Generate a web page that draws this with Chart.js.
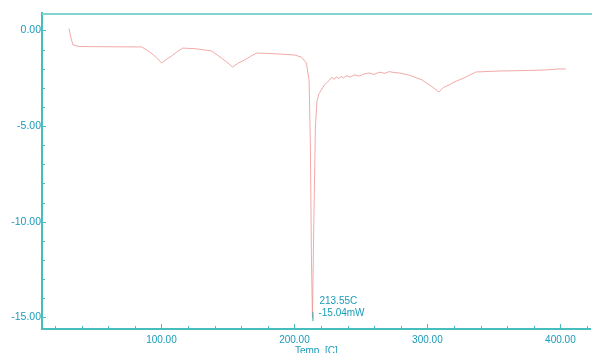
<!DOCTYPE html>
<html>
<head>
<meta charset="utf-8">
<script src="https://cdn.jsdelivr.net/npm/chart.js@4/dist/chart.umd.min.js"></script>
<style>
  html, body { margin: 0; padding: 0; background: #fff; }
  #wrap { width: 592px; height: 353px; position: relative; }
</style>
</head>
<body>
<div id="wrap"><canvas id="dsc"></canvas></div>
<script>
// DSC curve, temperature (C) vs heat flow (mW)
const temps = [
  30.5, 32, 33.5, 38.7, 60, 85.2, 91.2, 96, 100.2, 104, 107.7, 112, 116,
  125, 137.7, 145.2, 150, 153.5, 158, 162.5, 167, 171.5, 180, 188.7, 200,
  205.2, 209, 211, 212, 212.8, 213.55, 214.6, 215.8, 217, 218.5, 222.5,
  226.2, 228, 230, 231.5, 233.5, 235, 237, 239, 242, 245, 248.7, 252,
  256.2, 260, 263.7, 268, 271.2, 275, 278.7, 286.2, 296, 302.7, 308.7,
  312, 316.2, 320, 327.5, 336.5, 353.7, 376.2, 390, 398.7, 404
];
const heatFlow = [
  0.1, -0.4, -0.76, -0.84, -0.85, -0.86, -1.12, -1.4, -1.7, -1.5, -1.33, -1.1, -0.92,
  -0.95, -1.07, -1.44, -1.7, -1.91, -1.7, -1.54, -1.35, -1.18, -1.2, -1.23, -1.28,
  -1.39, -1.7, -2.6, -6.0, -12.0, -15.04, -10.0, -5.0, -3.7, -3.3, -2.85,
  -2.6, -2.45, -2.55, -2.42, -2.52, -2.4, -2.48, -2.36, -2.44, -2.32, -2.38, -2.28,
  -2.22, -2.3, -2.18, -2.24, -2.15, -2.2, -2.22, -2.33, -2.59, -2.9, -3.22,
  -2.98, -2.85, -2.7, -2.48, -2.17, -2.12, -2.09, -2.06, -2.01, -2.01
];
const xTickValues = [20, 40, 60, 80, 100, 120, 140, 160, 180, 200, 220, 240, 260, 280, 300, 320, 340, 360, 380, 400, 420];
const xLabelValues = [100, 200, 300, 400];
const yTickValues = [-15, -14, -13, -12, -11, -10, -9, -8, -7, -6, -5, -4, -3, -2, -1, 0];
const yLabelValues = [-15, -10, -5, 0];
const peakTemp = 213.55;
const peakFlow = -15.04;

const teal = "rgb(40,170,185)";
const axisTeal = "rgb(70,190,190)";
const labelTeal = "rgb(25,155,185)";

// inward tick marks, top frame line and the peak note
const framePlugin = {
  id: "frame",
  afterDraw(chart) {
    const { ctx, chartArea, scales } = chart;
    const x = scales.x, y = scales.y;
    ctx.save();
    ctx.strokeStyle = axisTeal;
    ctx.lineWidth = 1;
    xTickValues.forEach(v => {
      const px = Math.round(x.getPixelForValue(v)) + 0.5;
      const len = xLabelValues.includes(v) ? 5 : 3;
      ctx.beginPath();
      ctx.moveTo(px, chartArea.bottom);
      ctx.lineTo(px, chartArea.bottom - len);
      ctx.stroke();
    });
    yTickValues.forEach(v => {
      const py = Math.round(y.getPixelForValue(v)) + 0.5;
      const len = yLabelValues.includes(v) ? 4 : 3;
      ctx.beginPath();
      ctx.moveTo(chartArea.left, py);
      ctx.lineTo(chartArea.left + len, py);
      ctx.stroke();
    });
    // top frame line
    ctx.strokeStyle = "rgb(130,212,208)";
    ctx.lineWidth = 2;
    ctx.beginPath();
    ctx.moveTo(chartArea.left, chartArea.top + 1);
    ctx.lineTo(chart.width, chartArea.top + 1);
    ctx.stroke();
    // peak marker and label
    const px = x.getPixelForValue(peakTemp);
    const py = y.getPixelForValue(peakFlow);
    ctx.strokeStyle = teal;
    ctx.lineWidth = 1;
    ctx.beginPath();
    ctx.moveTo(px + 0.5, py - 6);
    ctx.lineTo(px + 0.5, py + 3);
    ctx.stroke();
    ctx.fillStyle = labelTeal;
    ctx.font = "10px 'Liberation Sans', Arial, sans-serif";
    ctx.textBaseline = "middle";
    ctx.textAlign = "left";
    ctx.fillText(peakTemp.toFixed(2) + "C", px + 7, py - 17);
    ctx.fillText(peakFlow.toFixed(2) + "mW", px + 6, py - 5);
    ctx.restore();
  }
};

const points = temps.map((t, i) => ({ x: t, y: heatFlow[i] }));

new Chart(document.getElementById("dsc"), {
  type: "line",
  data: {
    datasets: [{
      data: points,
      borderColor: "rgba(238,140,140,0.75)",
      borderWidth: 1,
      pointRadius: 0,
      tension: 0
    }]
  },
  options: {
    responsive: true,
    maintainAspectRatio: false,
    animation: false,
    layout: { padding: { top: 13, left: 0, right: 0, bottom: 0 } },
    plugins: { legend: { display: false }, tooltip: { enabled: false } },
    scales: {
      x: {
        type: "linear",
        min: 10.2,
        max: 422.7,
        afterBuildTicks: s => { s.ticks = xTickValues.map(v => ({ value: v })); },
        afterFit: s => { s.height = 24; },
        grid: { display: false, drawTicks: false },
        border: { display: true, color: axisTeal, width: 2 },
        ticks: {
          padding: 5,
          maxRotation: 0,
          autoSkip: false,
          color: labelTeal,
          font: { family: "'Liberation Sans', Arial, sans-serif", size: 10 },
          callback: v => xLabelValues.includes(v) ? v.toFixed(2) : ""
        },
        title: {
          display: true,
          text: "Temp  [C]",
          color: labelTeal,
          padding: 0,
          font: { family: "'Liberation Sans', Arial, sans-serif", size: 10, lineHeight: 0.4 }
        }
      },
      y: {
        min: -15.61,
        max: 0.915,
        afterBuildTicks: s => { s.ticks = yTickValues.map(v => ({ value: v })); },
        afterFit: s => { s.width = 42; },
        grid: { display: false, drawTicks: false },
        border: { display: true, color: axisTeal, width: 2 },
        ticks: {
          padding: 1,
          autoSkip: false,
          color: labelTeal,
          font: { family: "'Liberation Sans', Arial, sans-serif", size: 10.5 },
          callback: v => yLabelValues.includes(v) ? v.toFixed(2) : ""
        }
      }
    }
  },
  plugins: [framePlugin]
});
</script>
</body>
</html>
